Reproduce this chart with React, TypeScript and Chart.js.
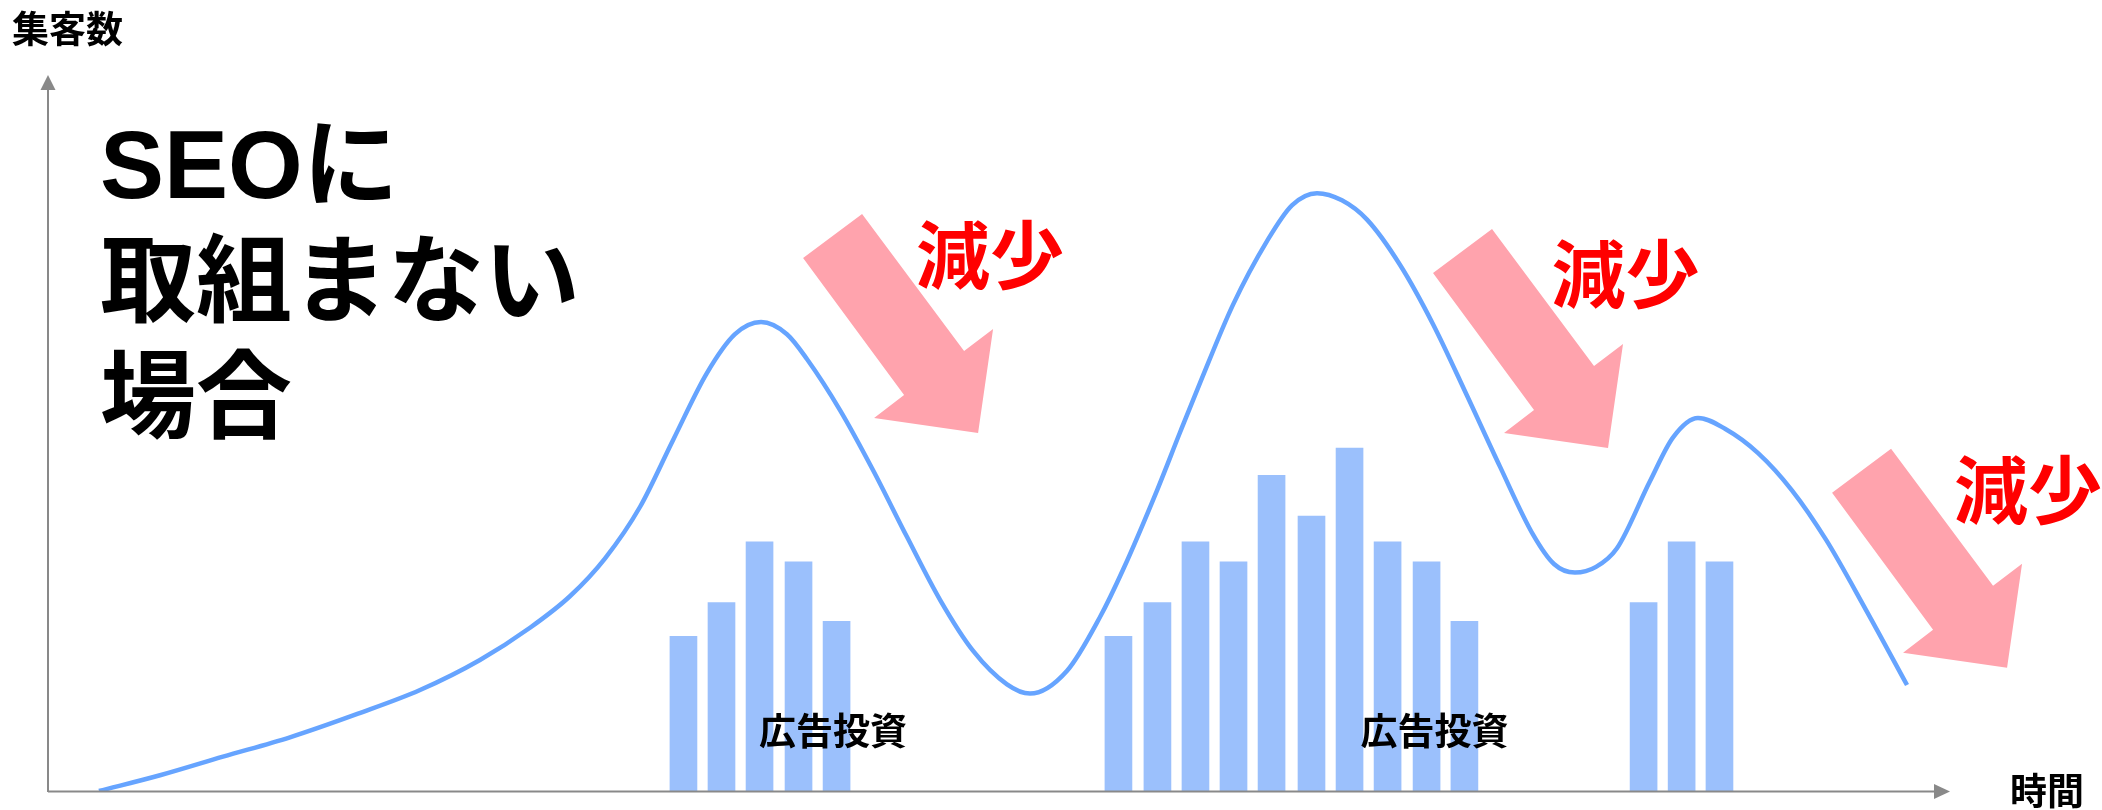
import { useEffect, useRef } from "react";
import { Chart, registerables } from "chart.js";

Chart.register(...registerables);

// Visitor count over time (time runs 0–100, count 0–100)
const visitTimes = [
  2.68, 5.89, 9.2, 12.72, 16.3, 19.56, 22.71, 25.34, 27.44, 29.29, 31.13, 32.86,
  34.65, 36.12, 37.49, 38.85, 39.91, 41.64, 43.38, 45.16, 46.9, 48.63, 50.42, 51.63,
  53.58, 55.31, 56.52, 58.31, 59.52, 60.57, 62.3, 64.09, 65.4, 66.72, 68.03, 69.35,
  71.08, 72.82, 74.61, 76.34, 78.08, 79.18, 80.28, 81.39, 82.49, 84.23, 85.44, 86.75,
  88.17, 89.91, 91.69, 93.48, 95.58, 97.74,
];
const visitCounts = [
  0, 2.2, 4.8, 7.5, 10.8, 14.1, 18.3, 22.8, 27.2, 32.5, 39.7, 49.0,
  58.4, 63.8, 65.5, 63.8, 60.3, 53.2, 44.8, 35.5, 26.7, 19.6, 14.9, 13.6,
  16.8, 24.3, 30.9, 42.0, 50.1, 57.0, 67.9, 76.8, 81.8, 83.5, 82.5, 79.8,
  73.5, 65.2, 55.2, 45.3, 35.8, 31.7, 30.5, 31.3, 33.9, 43.3, 49.4, 52.1,
  50.6, 47.2, 42.0, 35.1, 25.3, 14.8,
];

// Advertising spend bursts
const adTimes = [
  33.41, 35.41, 37.41, 39.46, 41.46,
  56.28, 58.33, 60.33, 62.33, 64.33, 66.43, 68.43, 70.43, 72.48, 74.47,
  83.89, 85.89, 87.88,
];
const adSpend = [
  21.6, 26.3, 34.8, 32.0, 23.7,
  21.6, 26.3, 34.8, 32.0, 44.1, 38.4, 47.9, 34.8, 32.0, 23.7,
  26.3, 34.8, 32.0,
];

// Text
const yAxisTitle = "集客数";
const xAxisTitle = "時間";
const headlineLines = ["SEOに", "取組まない", "場合"];
const adLabel = "広告投資";
const adLabelTimes = [41.27, 72.9];
const adLabelLevel = 6.4;
const dropLabel = "減少";
const dropLabelTimes = [49.53, 82.94, 104.1];
const dropLabelLevels = [70.95, 68.3, 38.1];
const dropArrowTimes = [48.9, 82.02, 103.0];
const dropArrowLevels = [50.0, 47.9, 17.2];

const LINE_COLOR = "#66a4ff";
const BAR_COLOR = "#9bc0fc";
const ARROW_COLOR = "#ffa3ad";
const AXIS_COLOR = "#898989";
const CJK = "'Noto Sans CJK JP'";

// Block-arrow outline, relative to its tip (pixels)
const arrowShape: [number, number][] = [
  [-175, -175],
  [-116, -219],
  [-14, -82],
  [15, -104],
  [0, 0],
  [-104, -15],
  [-74, -38],
];

const overlay = {
  id: "overlay",
  afterDatasetsDraw(chart: any) {
    const { ctx, chartArea, scales } = chart;
    const xs = scales.x;
    const ys = scales.y;
    const { left, right, top, bottom } = chartArea;
    ctx.save();

    // axes with arrowheads
    ctx.strokeStyle = AXIS_COLOR;
    ctx.fillStyle = AXIS_COLOR;
    ctx.lineWidth = 2;
    ctx.beginPath();
    ctx.moveTo(left, bottom + 0.5);
    ctx.lineTo(right - 14, bottom + 0.5);
    ctx.moveTo(left, bottom + 1);
    ctx.lineTo(left, top + 14);
    ctx.stroke();
    ctx.beginPath();
    ctx.moveTo(right, bottom + 0.5);
    ctx.lineTo(right - 16, bottom - 7);
    ctx.lineTo(right - 16, bottom + 8);
    ctx.closePath();
    ctx.fill();
    ctx.beginPath();
    ctx.moveTo(left, top);
    ctx.lineTo(left - 7.5, top + 15);
    ctx.lineTo(left + 7.5, top + 15);
    ctx.closePath();
    ctx.fill();

    // downward arrows
    ctx.fillStyle = ARROW_COLOR;
    dropArrowTimes.forEach((t, i) => {
      const px = xs.getPixelForValue(t);
      const py = ys.getPixelForValue(dropArrowLevels[i]);
      ctx.beginPath();
      arrowShape.forEach(([dx, dy], k) => {
        if (k === 0) ctx.moveTo(px + dx, py + dy);
        else ctx.lineTo(px + dx, py + dy);
      });
      ctx.closePath();
      ctx.fill();
    });

    ctx.textBaseline = "alphabetic";

    // "減少" labels
    ctx.fillStyle = "#ff0000";
    ctx.font = `bold 74px ${CJK}`;
    ctx.textAlign = "center";
    dropLabelTimes.forEach((t, i) => {
      ctx.fillText(dropLabel, xs.getPixelForValue(t), ys.getPixelForValue(dropLabelLevels[i]));
    });

    // ad labels
    ctx.fillStyle = "#000000";
    ctx.font = `bold 37px ${CJK}`;
    adLabelTimes.forEach((t) => {
      ctx.fillText(adLabel, xs.getPixelForValue(t), ys.getPixelForValue(adLabelLevel));
    });

    // axis titles
    ctx.textAlign = "left";
    ctx.font = `bold 37px ${CJK}`;
    ctx.fillText(yAxisTitle, 12, 43);
    ctx.fillText(xAxisTitle, right + 60, bottom + 14);

    // headline
    ctx.font = `bold 96px 'Liberation Sans', ${CJK}`;
    headlineLines.forEach((line, i) => {
      ctx.fillText(line, left + 52, 198 + i * 116);
    });

    ctx.restore();
  },
};

export default function App() {
  const canvasRef = useRef<HTMLCanvasElement>(null);

  useEffect(() => {
    const canvas = canvasRef.current;
    if (!canvas) return;
    const chart = new Chart(canvas, {
      type: "bar",
      data: {
        datasets: [
          {
            type: "line",
            label: "集客数",
            data: visitTimes.map((t, i) => ({ x: t, y: visitCounts[i] })),
            borderColor: LINE_COLOR,
            borderWidth: 4.5,
            pointRadius: 0,
            cubicInterpolationMode: "monotone",
            fill: false,
            order: 0,
          } as any,
          {
            type: "bar",
            label: "広告投資",
            data: adTimes.map((t, i) => ({ x: t, y: adSpend[i] })),
            backgroundColor: BAR_COLOR,
            borderWidth: 0,
            barThickness: 27,
            order: 1,
          } as any,
        ],
      },
      options: {
        animation: false,
        responsive: false,
        maintainAspectRatio: false,
        layout: { padding: { left: 48, right: 152, top: 75, bottom: 19 } },
        scales: {
          x: { type: "linear", min: 0, max: 100, display: false, offset: false },
          y: { type: "linear", min: 0, max: 100, display: false },
        },
        plugins: {
          legend: { display: false },
          title: { display: false },
          tooltip: { enabled: false },
        },
      },
      plugins: [overlay],
    });
    return () => chart.destroy();
  }, []);

  return (
    <div style={{ position: "absolute", left: 0, top: 0, width: 2102, height: 810, background: "#ffffff" }}>
      <canvas ref={canvasRef} width={2102} height={810} style={{ display: "block" }} />
    </div>
  );
}
